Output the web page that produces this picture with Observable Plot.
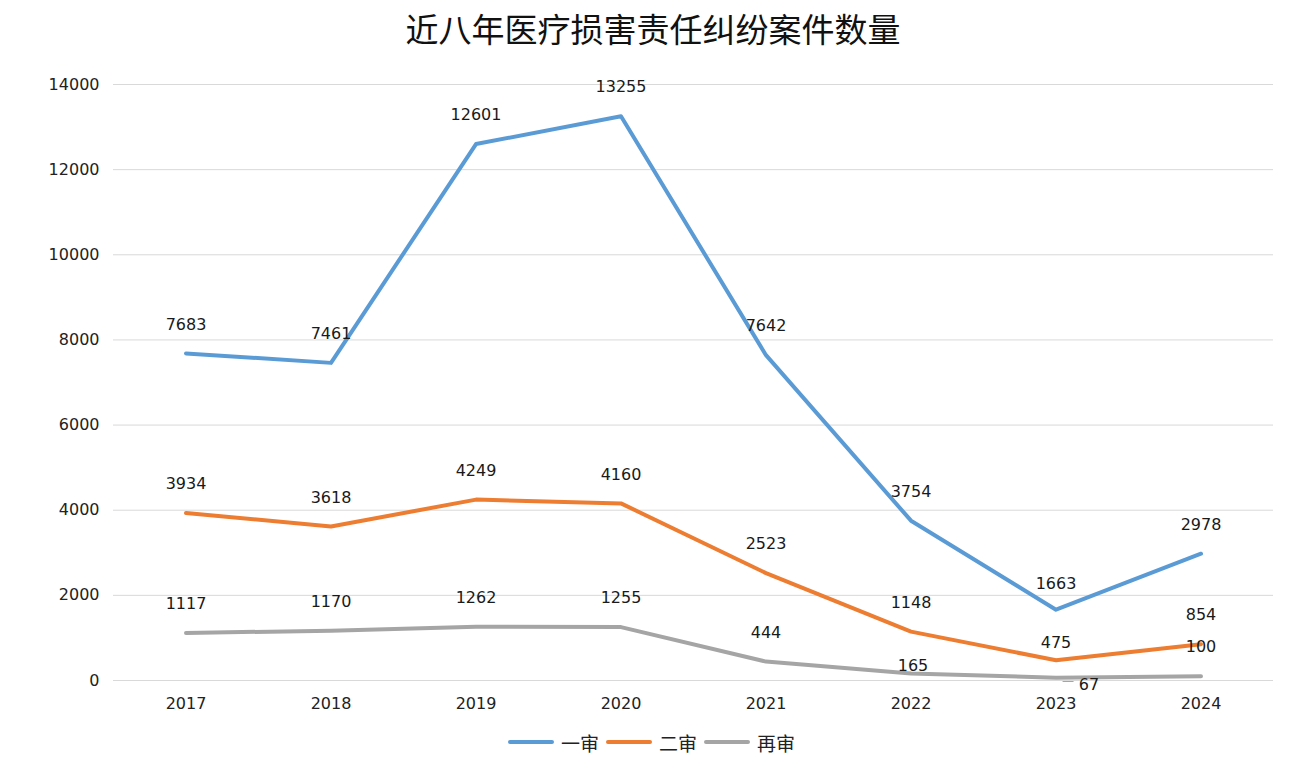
<!DOCTYPE html>
<html><head><meta charset="utf-8">
<script src="https://cdn.jsdelivr.net/npm/d3@7"></script>
<script src="https://cdn.jsdelivr.net/npm/@observablehq/plot@0.6"></script>
<style>
body{margin:0;background:#fff;width:1306px;height:774px;overflow:hidden;font-family:"DejaVu Sans",sans-serif}
#title{height:56px;line-height:56px;text-align:center;font-size:33px;font-family:"Noto Sans CJK SC",sans-serif;color:#111}
#chart{height:665px}
#legend{height:42px;display:flex;justify-content:center;align-items:center;font-family:"Noto Sans CJK SC",sans-serif;font-size:19px;color:#222;padding-right:4px}
#legend .item{display:flex;align-items:center;margin:0 3px}
#legend svg{margin-right:6px}
</style></head><body>
<div id="title">近八年医疗损害责任纠纷案件数量</div>
<div id="chart"></div>
<div id="legend"></div>
<script>
const years = ["2017","2018","2019","2020","2021","2022","2023","2024"];
const firstInstance = [7683,7461,12601,13255,7642,3754,1663,2978];
const secondInstance = [3934,3618,4249,4160,2523,1148,475,854];
const retrial = [1117,1170,1262,1255,444,165,67,100];
const seriesNames = ["一审","二审","再审"];
const seriesColors = ["#5B9BD5","#ED7D31","#A5A5A5"];
const yTicks = [0,2000,4000,6000,8000,10000,12000,14000];

const seriesValues = [firstInstance, secondInstance, retrial];
const rows = [];
seriesNames.forEach((s, i) => years.forEach((y, j) => rows.push({series: s, year: y, value: seriesValues[i][j]})));

// labels that were nudged from the default position in the original
const isSpecial = d => (d.series === "二审" && d.year === "2023") || (d.series === "再审" && (d.year === "2022" || d.year === "2023")) || (d.series === "一审" && d.year === "2023");
const pick = (s, y) => d => d.series === s && d.year === y;

const chart = Plot.plot({
  width: 1306,
  height: 665,
  marginLeft: 113,
  marginRight: 33,
  marginTop: 28,
  marginBottom: 41,
  style: {fontFamily: "DejaVu Sans", fontSize: "16px", color: "#222", background: "#fff"},
  x: {type: "point", domain: years, padding: 0.5, round: false},
  y: {domain: [0, 14000]},
  color: {domain: seriesNames, range: seriesColors},
  marks: [
    Plot.gridY(yTicks, {stroke: "#d9d9d9", strokeOpacity: 1, strokeWidth: 1}),
    Plot.axisY({ticks: yTicks, tickSize: 0, tickPadding: 14, fontSize: 16, label: null, tickFormat: d => String(d)}),
    Plot.axisX({tickSize: 0, tickPadding: 17, fontSize: 16, label: null}),
    Plot.line(rows, {x: "year", y: "value", z: "series", stroke: "series", strokeWidth: 4, strokeLinecap: "round", strokeLinejoin: "round"}),
    Plot.text(rows, {filter: d => !isSpecial(d), x: "year", y: "value", text: d => String(d.value), dy: -29, fontSize: 16, fill: "#1a1a1a"}),
    Plot.text(rows, {filter: pick("一审", "2023"), x: "year", y: "value", text: d => String(d.value), dy: -26, fontSize: 16, fill: "#1a1a1a"}),
    Plot.text(rows, {filter: pick("二审", "2023"), x: "year", y: "value", text: d => String(d.value), dy: -17, fontSize: 16, fill: "#1a1a1a"}),
    Plot.text(rows, {filter: pick("再审", "2022"), x: "year", y: "value", text: d => String(d.value), dy: -8, dx: 2, fontSize: 16, fill: "#1a1a1a"}),
    Plot.text(rows, {filter: pick("再审", "2023"), x: "year", y: "value", text: d => String(d.value), dy: 7, dx: 33, fontSize: 16, fill: "#1a1a1a"}),
    Plot.text(rows, {filter: pick("再审", "2023"), x: "year", y: "value", text: () => "—", dy: 4, dx: 12, fontSize: 12, fill: "#a5a5a5"})
  ]
});
document.getElementById("chart").appendChild(chart);

const legend = document.getElementById("legend");
seriesNames.forEach((name, i) => {
  const item = document.createElement("div");
  item.className = "item";
  item.innerHTML = `<svg width="48" height="10"><line x1="3" y1="5" x2="45" y2="5" stroke="${seriesColors[i]}" stroke-width="4" stroke-linecap="round"/></svg><span>${name}</span>`;
  legend.appendChild(item);
});
</script>
</body></html>
